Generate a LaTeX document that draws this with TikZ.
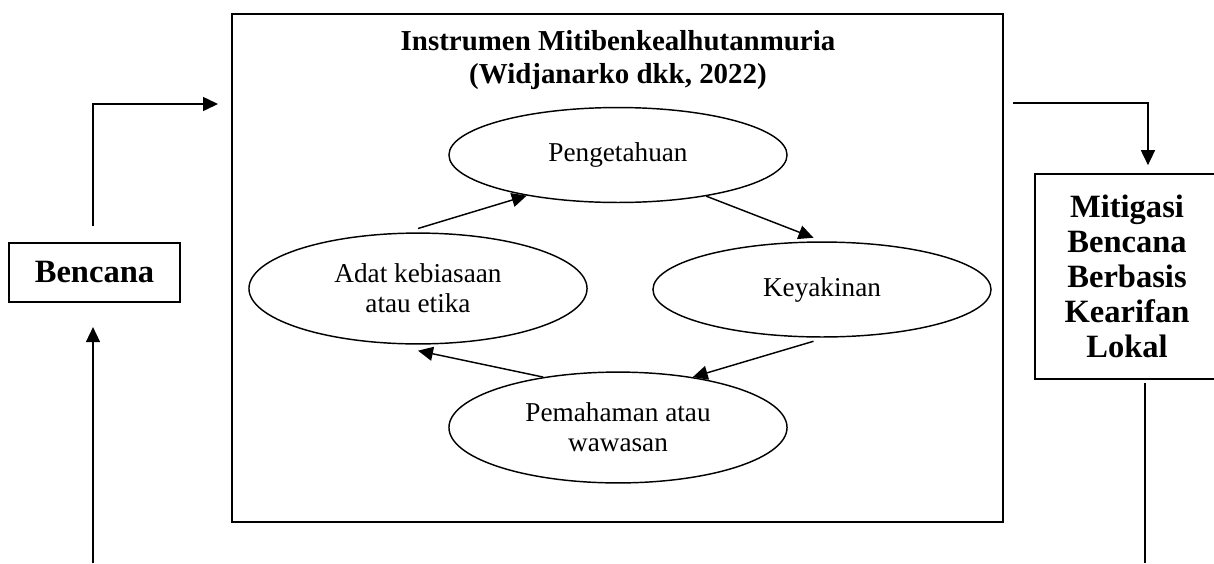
\documentclass[tikz,border=0pt]{standalone}
\usepackage{fontspec}
\setmainfont{Liberation Serif}
\usepackage{tikz}
\usetikzlibrary{positioning, shapes, arrows.meta}
\tikzstyle{concept} = [ellipse, draw, line width=0.6pt, inner sep=0pt, minimum width=140.3pt, minimum height=39.4pt, align=center, font=\fontsize{11.3}{12.5}\selectfont]
\tikzstyle{stage} = [rectangle, draw, line width=0.8pt, inner sep=0pt, align=center, font=\fontsize{13.5}{14.5}\selectfont\bfseries]

\begin{document}
\begin{tikzpicture}[x=0.415pt, y=-0.415pt, ->, >={Triangle[length=6.2pt, width=5.8pt]}, line width=0.6pt]
\useasboundingbox (0,0) rectangle (1214,563);
\node[draw, line width=0.8pt, minimum width=320pt, minimum height=210.8pt] (frame) at (617.5,268) {};
\node[align=center, font=\fontsize{12}{14}\selectfont\bfseries] (title) at (618,60) {Instrumen Mitibenkealhutanmuria\\(Widjanarko dkk, 2022)};
\node[concept] (peng) at (618,155) {Pengetahuan};
\node[concept] (key) at (822,289.5) {Keyakinan};
\node[concept, minimum height=46pt] (pem) at (618,427.5) {Pemahaman atau\\wawasan};
\node[concept, minimum height=46pt] (adat) at (418,288.5) {Adat kebiasaan\\atau etika};
\node[stage, minimum width=71pt, minimum height=24.5pt] (bencana) at (94.5,272.5) {Bencana};
\node[stage, minimum width=76pt, minimum height=85pt] (mitigasi) at (1127,276.5) {Mitigasi\\Bencana\\Berbasis\\Kearifan\\Lokal};
% cycle inside the frame
\draw ([yshift=1.6pt]adat.north) -- (peng.204);
\draw (peng.-25) -- ([yshift=1.5pt]key.100);
\draw ([yshift=-1.5pt]key.260) -- (pem.34);
\draw (pem.146) -- ([yshift=-2.5pt]adat.south);
% flow outside
\coordinate (into) at (218,104);
\coordinate (outof) at (1013,103);
\coordinate (low) at (93,563);
\coordinate (lowr) at (1145,563);
\draw ([xshift=-0.6pt]bencana.north) ++(0,-16) |- (into);
\draw (outof) -| ([xshift=8.7pt, yshift=3.3pt]mitigasi.north);
\draw[shorten >=10pt] (low) -- (low |- bencana.south);
\draw[-] (lowr |- mitigasi.south) ++(0,3) -- (lowr);
\end{tikzpicture}
\end{document}
